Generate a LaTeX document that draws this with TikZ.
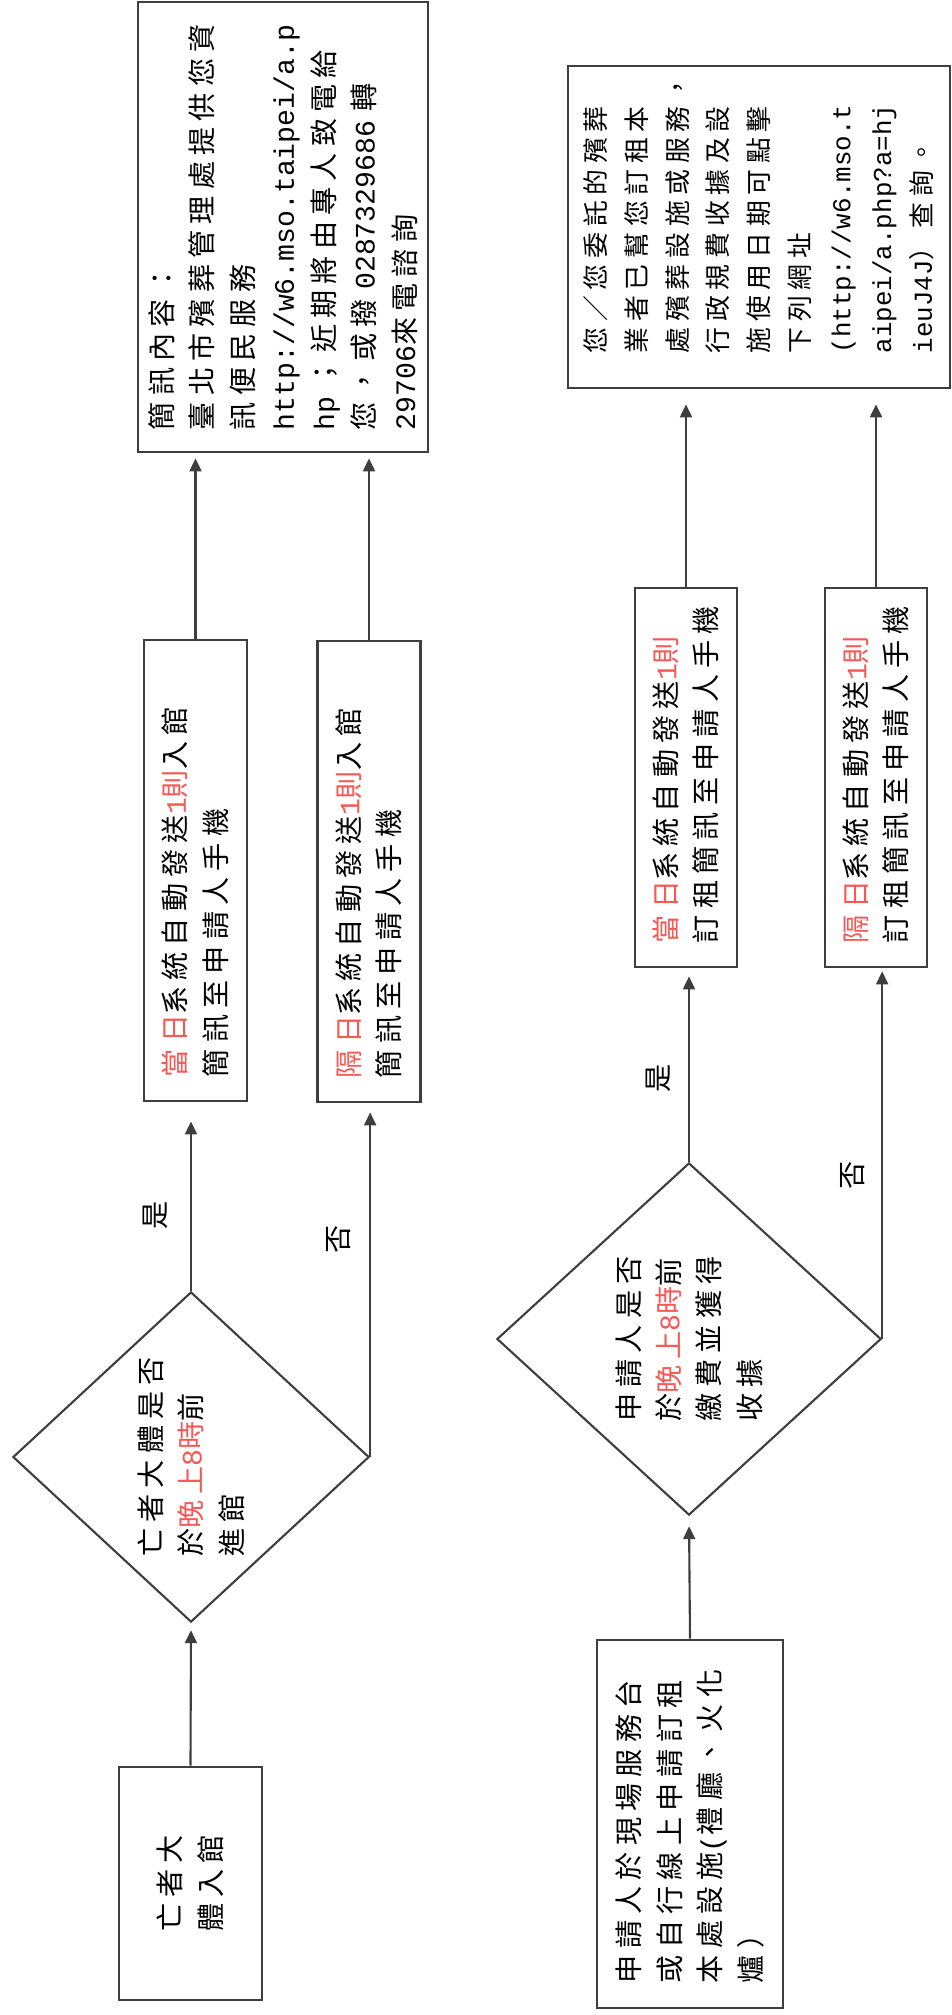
\documentclass[tikz,border=0pt]{standalone}
\usepackage{fontspec}
\setmainfont{Noto Sans CJK TC}[LetterSpace=22]
\newfontfamily\latfont{Liberation Mono}
\usetikzlibrary{shapes.geometric,arrows.meta}
\definecolor{hl}{RGB}{246,88,84}
\definecolor{ink}{RGB}{62,62,62}
\newcommand{\ltn}[1]{\mbox{\latfont #1}}
\newcommand{\redtxt}[1]{\textcolor{hl}{#1}}
\newcommand{\cjksize}{\fontsize{8pt}{11.5pt}\selectfont}
\newcommand{\cjksmall}{\fontsize{7.35pt}{11.6pt}\selectfont}
\tikzset{box/.style={draw=ink, line width=0.7pt, rotate=90, inner ysep=0pt, align=left, font=\cjksize},
  decide/.style={draw=ink, line width=0.6pt, diamond, rotate=90, inner sep=0pt, align=left, font=\cjksize},
  lbl/.style={rotate=90, inner sep=0pt, font=\cjksize},
  arr/.style={draw=ink, line width=0.6pt, -{Triangle[length=3.7pt,width=3.4pt]}}}

\begin{document}
\begin{tikzpicture}[x=0.01cm, y=-0.01cm]
  \useasboundingbox (0,0) rectangle (952,2015);
  \node[box, minimum width=4.5cm, minimum height=2.9cm, inner xsep=0.22cm, text width=4.06cm] (sms) at (283,227)
   {簡訊內容：\\臺北市殯葬管理處提供您資\\訊便民服務\\\ltn{http://w6.mso.taipei/a.p}\\\ltn{hp~}；近期將由專人致電給\\您，或撥\ltn{~0287329686~}轉\\\ltn{29706}來電諮詢};
  \node[box, minimum width=4.61cm, minimum height=1.03cm, inner xsep=0.24cm, text width=4.13cm] (day1) at (195.5,870.5)
   {\redtxt{當日}系統自動發送\redtxt{\ltn{1}則}入館\\簡訊至申請人手機};
  \node[box, minimum width=4.61cm, minimum height=1.03cm, inner xsep=0.24cm, text width=4.13cm] (nxt1) at (369,871.5)
   {\redtxt{隔日}系統自動發送\redtxt{\ltn{1}則}入館\\簡訊至申請人手機};
  \node[decide, minimum width=3.3cm, minimum height=3.56cm] (dia1) at (191,1457)
   {亡者大體是否\\於\redtxt{晚上\ltn{8}時}前\\進館};
  \node[box, minimum width=2.33cm, minimum height=1.43cm] (body) at (190.5,1883.5) {亡者大\\體入館};

  \node[box, font=\cjksmall, minimum width=3.22cm, minimum height=3.82cm, inner xsep=0.35cm, text width=2.52cm] (msg) at (759,227)
   {您／您委託的殯葬\\業者已幫您訂租本\\處殯葬設施或服務，\\行政規費收據及設\\施使用日期可點擊\\下列網址\\\ltn{(http://w6.mso.t}\\\ltn{aipei/a.php?a=hj}\\\ltn{ieuJ4J}）查詢。};
  \node[box, minimum width=3.79cm, minimum height=1.02cm, inner xsep=0.24cm, text width=3.31cm] (day2) at (686,777.5)
   {\redtxt{當日}系統自動發送\redtxt{\ltn{1}則}\\訂租簡訊至申請人手機};
  \node[box, minimum width=3.79cm, minimum height=1.02cm, inner xsep=0.24cm, text width=3.31cm] (nxt2) at (876,777.5)
   {\redtxt{隔日}系統自動發送\redtxt{\ltn{1}則}\\訂租簡訊至申請人手機};
  \node[decide, minimum width=3.52cm, minimum height=3.84cm] (dia2) at (689,1339)
   {申請人是否\\於\redtxt{晚上\ltn{8}時}前\\繳費並獲得\\收據};
  \node[box, minimum width=3.68cm, minimum height=1.86cm, inner xsep=0.25cm, text width=3.18cm] (apply) at (690,1824)
   {申請人於現場服務台\\或自行線上申請訂租\\本處設施\ltn{(}禮廳、火化\\爐）};

  \draw[arr, shorten >=0.07cm] (body.east) -- (dia1.west);
  \draw[arr, shorten >=0.19cm] (dia1.east) -- (dia1.east |- day1.west) node[xshift=-0.36cm, lbl, pos=0.4] (yes1) {是};
  \draw[arr, shorten >=0.09cm] (dia1.south) -- (dia1.south |- nxt1.west) node[xshift=-0.32cm, lbl, pos=0.615] (no1) {否};
  \draw[arr, shorten >=0.05cm] (day1.east) -- (day1.east |- sms.west);
  \draw[arr, shorten >=0.05cm] (nxt1.east) -- (nxt1.east |- sms.west);
  \draw[arr, shorten >=0.1cm] (apply.east) -- (dia2.west);
  \draw[arr, shorten >=0.08cm] (dia2.east) -- (dia2.east |- day2.west) node[xshift=-0.31cm, lbl, pos=0.43] (yes2) {是};
  \draw[arr, shorten >=0.03cm] (dia2.south) -- (dia2.south |- nxt2.west) node[xshift=-0.30cm, lbl, pos=0.44] (no2) {否};
  \draw[arr, shorten >=0.15cm] (day2.east) -- (day2.east |- msg.west);
  \draw[arr, shorten >=0.15cm] (nxt2.east) -- (nxt2.east |- msg.west);
\end{tikzpicture}
\end{document}
